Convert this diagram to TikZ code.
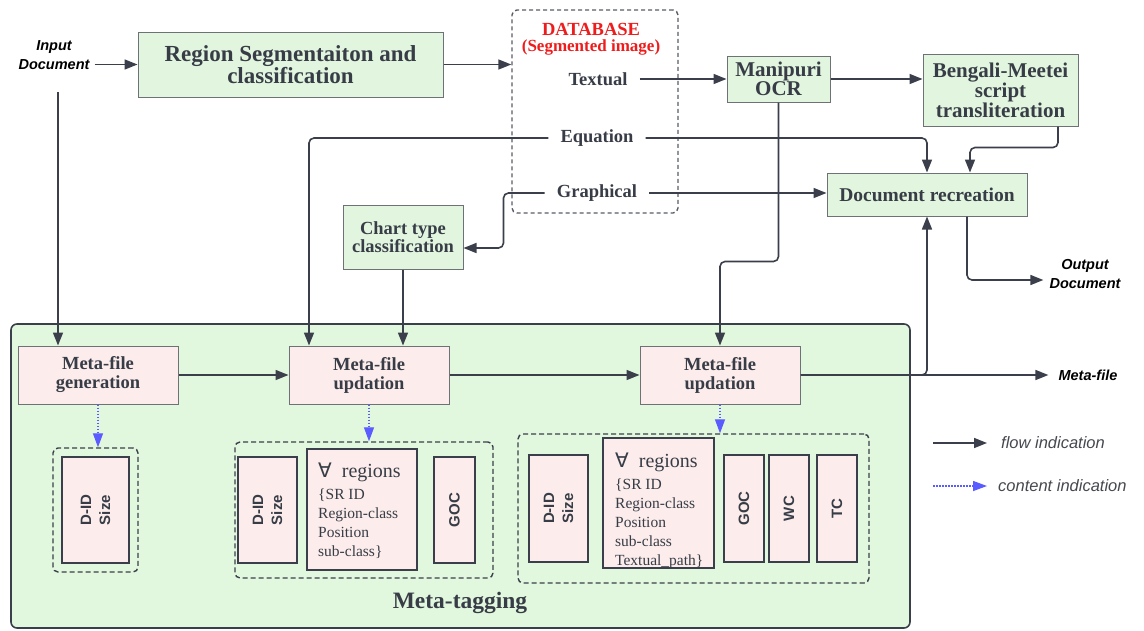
\documentclass[tikz,border=0pt]{standalone}
\usepackage{fontspec}
\setmainfont{Liberation Serif}
\newfontfamily\arialf{Liberation Sans}
\newfontfamily\dejavu{DejaVu Sans}
\usetikzlibrary{arrows.meta,calc}

\definecolor{ink}{HTML}{373C46}
\definecolor{linec}{HTML}{3A3F4B}
\definecolor{greenf}{HTML}{E2F6DF}
\definecolor{tagf}{HTML}{E1F8DE}
\definecolor{pinkf}{HTML}{FCEDEC}
\definecolor{boxedge}{HTML}{6E7175}
\definecolor{dbred}{HTML}{EE1C1C}
\definecolor{contentc}{HTML}{5A5CFF}
\definecolor{legendc}{HTML}{45484F}

\newcommand\fsz[2]{\fontsize{#1}{#2}\selectfont}

\begin{document}
\begin{tikzpicture}[x=1pt,y=-1pt,
  flow/.style={draw=linec, line width=1.6pt, -{Triangle[length=13pt,width=10pt]}},
  content/.style={draw=contentc, line width=1.3pt, dash pattern=on 1.5pt off 1.5pt,
    -{Triangle[length=14pt,width=10pt]}},
  greenbox/.style={draw=boxedge, line width=1pt, fill=greenf, text=ink, align=center, inner sep=0pt},
  metabox/.style={draw=boxedge, line width=1pt, fill=pinkf, text=ink, align=center, inner sep=0pt,
    font=\bfseries\fsz{18.5}{19}, minimum width=160pt, minimum height=58pt},
  itembox/.style={draw=linec, line width=1.6pt, fill=pinkf, text=ink, align=center, inner sep=0pt,
    font=\arialf\bfseries\fsz{15}{19}},
  regtext/.style={text=ink, align=left, inner sep=0pt, anchor=north west, font=\fsz{15.5}{19}},
  group/.style={draw=linec, line width=1.4pt, dash pattern=on 5pt off 3pt, rounded corners=5pt},
  dbbox/.style={draw=linec!85, line width=1.4pt, dash pattern=on 4pt off 3pt, rounded corners=5pt},
  caption/.style={text=ink, font=\bfseries\fsz{18.5}{20}, inner xsep=12pt},
  sanslabel/.style={text=black, font=\arialf\bfseries\itshape\fsz{14.5}{19}, align=center},
  legendtext/.style={text=legendc, font=\arialf\itshape\fsz{16.5}{19}, anchor=west},
  tagregion/.style={draw=linec, line width=1.6pt, fill=tagf, rounded corners=6pt}]

\useasboundingbox (0,0) rectangle (1144,630);

% Meta-tagging area
\node[tagregion, minimum width=899pt, minimum height=304pt] (tag) at (460.5,476) {};
\node[text=ink, font=\bfseries\fsz{23.5}{24}] (taglbl) at (460,603) {Meta-tagging};

% Upper processing chain
\node[sanslabel, inner xsep=5pt] (inp) at (54,55) {Input\\Document};
\node[greenbox, minimum width=305pt, minimum height=65pt, font=\bfseries\fsz{23}{21}] (seg) at (290.5,64.5)
  {Region Segmentaiton and\\classification};

\node[dbbox, minimum width=166pt, minimum height=203pt] (db) at (595,111.5) {};
\node[text=dbred, font=\bfseries\fsz{18.5}{17}] (dbt) at (591,29) {DATABASE};
\node[text=dbred, font=\bfseries\fsz{17}{16}] (dbs) at (591,47) {(Segmented image)};
\node[caption] (txt) at (598,79) {Textual};
\node[caption] (eqn) at (597,138) {Equation};
\node[caption] (gra) at (597,193) {Graphical};

\node[greenbox, minimum width=103pt, minimum height=46pt, font=\bfseries\fsz{21}{19}] (ocr) at (778.5,79)
  {Manipuri\\OCR};
\node[greenbox, minimum width=155pt, minimum height=72pt, font=\bfseries\fsz{21}{20}] (bmt) at (1000.5,90)
  {Bengali-Meetei\\script\\transliteration};
\node[greenbox, minimum width=200pt, minimum height=43pt, font=\bfseries\fsz{19.5}{19}] (rec) at (927,194.5)
  {Document recreation};
\node[greenbox, minimum width=120pt, minimum height=64pt, font=\bfseries\fsz{18.5}{18}] (chart) at (403,237)
  {Chart type\\classification};

\node[sanslabel, inner xsep=6pt] (outd) at (1085,274) {Output\\Document};
\node[sanslabel, inner xsep=10pt] (mf) at (1088,375) {Meta-file};

% Meta-file stages
\node[metabox] (gen) at (98,375) {Meta-file\\generation};
\node[metabox] (upd1) at (369,375) {Meta-file\\updation};
\node[metabox] (upd2) at (720,375) {Meta-file\\updation};

% Content groups
\node[group, minimum width=85pt, minimum height=124pt] (g1) at (95.5,510) {};
\node[group, minimum width=258pt, minimum height=136pt] (g2) at (364,510) {};
\node[group, minimum width=351pt, minimum height=149pt] (g3) at (693.5,508.5) {};

\node[itembox, rotate=90, minimum width=106pt, minimum height=67pt] (d1) at (95.5,510) {D-ID\\Size};

\node[itembox, rotate=90, minimum width=106pt, minimum height=59pt] (d2) at (267.5,510) {D-ID\\Size};
\node[itembox, minimum width=110pt, minimum height=121pt] (r2) at (362,509.5) {};
\node[regtext] (r2t) at (318,463)
  {{\fsz{20}{22}{\dejavu ∀}\ \ regions}\\[3pt]\{SR ID\\Region-class\\Position\\sub-class\}};
\node[itembox, rotate=90, minimum width=106pt, minimum height=41pt] (goc2) at (454.5,510) {GOC};

\node[itembox, rotate=90, minimum width=107pt, minimum height=59pt] (d3) at (558.5,508.5) {D-ID\\Size};
\node[itembox, minimum width=111pt, minimum height=130pt] (r3) at (658.5,503) {};
\node[regtext] (r3t) at (615,453)
  {{\fsz{20}{22}{\dejavu ∀}\ \ regions}\\[3pt]\{SR ID\\Region-class\\Position\\sub-class\\Textual\_path\}};
\node[itembox, rotate=90, minimum width=107pt, minimum height=40pt] (goc3) at (744,508.5) {GOC};
\node[itembox, rotate=90, minimum width=107pt, minimum height=40pt] (wc3) at (789,508.5) {WC};
\node[itembox, rotate=90, minimum width=107pt, minimum height=40pt] (tc3) at (837,508.5) {TC};

% Flow connectors
\coordinate (inDown) at (58,92);
\draw[flow] (inp.east |- seg.west) -- (seg.west);
\draw[flow] (inDown) -- (inDown |- gen.north);
\draw[flow] (seg.east) -- (seg.east -| db.west);
\draw[flow] (txt.east) -- (txt.east -| ocr.west);
\draw[flow] (ocr.east) -- (ocr.east -| bmt.west);
\draw[flow, rounded corners=5pt] ($(bmt.south)+(57.5,0)$) -- ++(0,21) -| ($(rec.north)+(43,0)$);
\draw[flow, rounded corners=5pt] (eqn.east) -| (rec.north);
\draw[flow, rounded corners=5pt] (eqn.west) -| ($(upd1.north)+(-60,0)$);
\draw[flow] (gra.east) -- (gra.east -| rec.west);
\draw[flow, rounded corners=5pt] (gra.west) -| ($(chart.east)+(40,11)$) -- ($(chart.east)+(0,11)$);
\draw[flow] (chart.south) -- (chart.south |- upd1.north);
\draw[flow, rounded corners=5pt] (ocr.south) |- ($(upd2.north)+(0,-84)$) -- (upd2.north);
\draw[flow] (gen.east) -- (upd1.west);
\draw[flow] (upd1.east) -- (upd2.west);
\draw[flow, rounded corners=5pt] (upd2.east) -| (rec.south);
\draw[flow] (upd2.east) -- (mf.west);
\draw[flow, rounded corners=5pt] ($(rec.south)+(40,0)$) |- ($(outd.west)+(0,6)$);

% Content connectors
\draw[content] (gen.south) -- (gen.south |- g1.north);
\draw[content] (upd1.south) -- (upd1.south |- g2.north);
\draw[content] (upd2.south) -- (upd2.south |- g3.north);

% Legend
\coordinate (lg1) at (933,443);
\node[legendtext, inner xsep=14pt] (lgf) at (987,443) {flow indication};
\draw[flow] (lg1) -- (lgf.west);
\coordinate (lg2) at (933,486);
\node[legendtext, inner xsep=11pt] (lgc) at (987,486) {content indication};
\draw[content] (lg2) -- (lgc.west);

\end{tikzpicture}
\end{document}
